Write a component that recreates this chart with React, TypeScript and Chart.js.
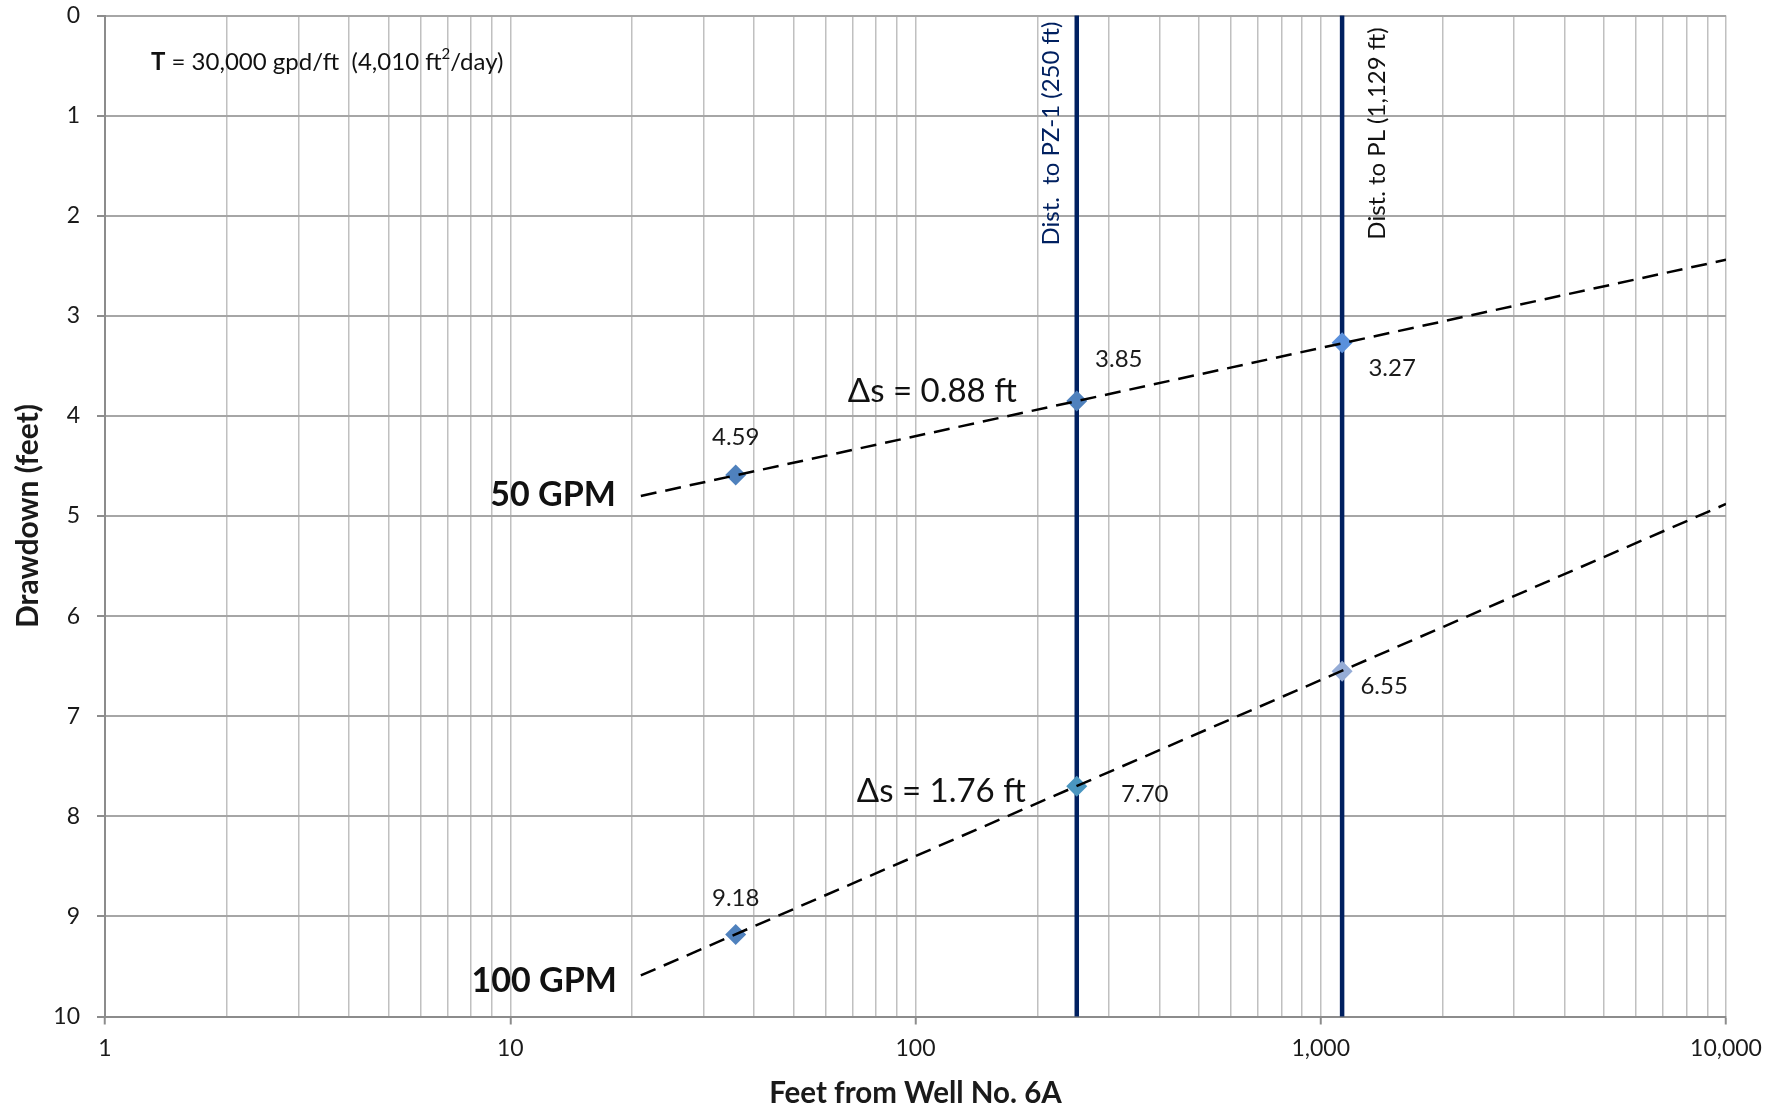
import React, { useEffect, useRef } from 'react';
import { Chart, registerables } from 'chart.js';

Chart.register(...registerables);

// ---------- data ----------
const distances = [36, 250, 1129];
const drawdown50 = [4.59, 3.85, 3.27];
const drawdown100 = [9.18, 7.7, 6.55];
const trendDistances = [21, 10000];
const trend50 = [4.80, 2.44];
const trend100 = [9.59, 4.88];
const pz1Distance = 250;
const plDistance = 1129;
const drawdownRange = [0, 10];
const xTickValues = [1, 10, 100, 1000, 10000];
const deltaS50 = 0.88;
const deltaS100 = 1.76;

// ---------- styles ----------
const FONT = 'Lato, "Open Sans", sans-serif';
const NAVY = '#002060';
const colors50 = ['#4F81BD', '#4F81BD', '#5A90DC'];
const colors100 = ['#4F81BD', '#4A96C0', '#95ACD6'];
const labelOffsets50 = [[0, -38], [42, -42], [50, 25]];
const labelOffsets100 = [[0, -36], [68, 8], [42, 15]];

const isPow10 = (v: number) => {
  const l = Math.log10(v);
  return Math.abs(l - Math.round(l)) < 1e-9;
};

const annotationPlugin = {
  id: 'annotationsCustom',
  afterDatasetsDraw(chart: any) {
    const ctx = chart.ctx as CanvasRenderingContext2D;
    const xs = chart.scales.x;
    const ys = chart.scales.y;
    ctx.save();
    ctx.textBaseline = 'middle';

    // data labels
    const drawLabels = (dsIndex: number, values: number[], offsets: number[][]) => {
      const meta = chart.getDatasetMeta(dsIndex);
      ctx.font = `24px ${FONT}`;
      ctx.fillStyle = '#1a1a1a';
      ctx.textAlign = 'center';
      values.forEach((v, i) => {
        const el = meta.data[i];
        ctx.fillText(v.toFixed(2), el.x + offsets[i][0], el.y + offsets[i][1]);
      });
    };
    drawLabels(2, drawdown50, labelOffsets50);
    drawLabels(3, drawdown100, labelOffsets100);

    // vertical line labels
    const drawVertical = (text: string, x: number, color: string) => {
      ctx.save();
      ctx.translate(x, chart.chartArea.top + 118);
      ctx.rotate(-Math.PI / 2);
      ctx.font = `24px ${FONT}`;
      ctx.fillStyle = color;
      ctx.textAlign = 'center';
      ctx.fillText(text, 0, 0);
      ctx.restore();
    };
    drawVertical('Dist.  to PZ-1 (250 ft)', xs.getPixelForValue(pz1Distance) - 25, NAVY);
    drawVertical('Dist. to PL (1,129 ft)', xs.getPixelForValue(plDistance) + 35, '#111');

    // delta s labels
    ctx.fillStyle = '#111';
    ctx.font = `33px ${FONT}`;
    ctx.textAlign = 'right';
    const pzX = xs.getPixelForValue(pz1Distance);
    ctx.fillText(`\u0394s = ${deltaS50.toFixed(2)} ft`, pzX - 60, ys.getPixelForValue(3.75));
    ctx.fillText(`\u0394s = ${deltaS100.toFixed(2)} ft`, pzX - 51, ys.getPixelForValue(7.75));

    // GPM labels
    ctx.font = `bold 34px ${FONT}`;
    const trendStart = xs.getPixelForValue(trendDistances[0]);
    ctx.fillText('50 GPM', trendStart - 25, ys.getPixelForValue(4.79));
    ctx.fillText('100 GPM', trendStart - 24, ys.getPixelForValue(9.65));

    // T label
    ctx.textAlign = 'left';
    let tx = chart.chartArea.left + 46;
    const ty = ys.getPixelForValue(0.47);
    ctx.font = `bold 24px ${FONT}`;
    ctx.fillText('T', tx, ty);
    tx += ctx.measureText('T').width;
    ctx.font = `24px ${FONT}`;
    const p1 = ' = 30,000 gpd/ft  (4,010 ft';
    ctx.fillText(p1, tx, ty);
    tx += ctx.measureText(p1).width;
    ctx.font = `15px ${FONT}`;
    ctx.fillText('2', tx, ty - 8);
    tx += ctx.measureText('2').width;
    ctx.font = `24px ${FONT}`;
    ctx.fillText('/day)', tx, ty);

    ctx.restore();
  },
};

export default function App() {
  const canvasRef = useRef<HTMLCanvasElement | null>(null);

  useEffect(() => {
    if (!canvasRef.current) return;
    const pts = (xsArr: number[], ysArr: number[]) => xsArr.map((x, i) => ({ x, y: ysArr[i] }));
    const chart = new Chart(canvasRef.current, {
      type: 'scatter',
      data: {
        datasets: [
          {
            label: '50 GPM trend',
            data: pts(trendDistances, trend50),
            showLine: true,
            borderColor: '#000',
            borderWidth: 2.5,
            borderDash: [16, 9],
            pointRadius: 0,
            order: 0,
          },
          {
            label: '100 GPM trend',
            data: pts(trendDistances, trend100),
            showLine: true,
            borderColor: '#000',
            borderWidth: 2.5,
            borderDash: [16, 9],
            pointRadius: 0,
            order: 0,
          },
          {
            label: '50 GPM',
            data: pts(distances, drawdown50),
            pointStyle: 'rectRot',
            pointRadius: 10.5,
            pointBorderWidth: 0,
            backgroundColor: colors50,
            pointBackgroundColor: colors50,
            showLine: false,
            order: 1,
          },
          {
            label: '100 GPM',
            data: pts(distances, drawdown100),
            pointStyle: 'rectRot',
            pointRadius: 10.5,
            pointBorderWidth: 0,
            backgroundColor: colors100,
            pointBackgroundColor: colors100,
            showLine: false,
            order: 1,
          },
          {
            label: 'PZ-1',
            data: drawdownRange.map((y) => ({ x: pz1Distance, y })),
            showLine: true,
            borderColor: NAVY,
            borderWidth: 4.5,
            pointRadius: 0,
            order: 2,
            clip: false as any,
          },
          {
            label: 'PL',
            data: drawdownRange.map((y) => ({ x: plDistance, y })),
            showLine: true,
            borderColor: NAVY,
            borderWidth: 4.5,
            pointRadius: 0,
            order: 2,
            clip: false as any,
          },
        ],
      },
      options: {
        animation: false,
        responsive: false,
        maintainAspectRatio: false,
        layout: { padding: { left: 0, top: 15.5, right: 60, bottom: 0 } },
        plugins: {
          legend: { display: false },
          tooltip: { enabled: false },
        },
        scales: {
          x: {
            type: 'logarithmic',
            min: xTickValues[0],
            max: xTickValues[xTickValues.length - 1],
            afterBuildTicks: (scale: any) => {
              const ticks: any[] = [];
              for (let d = 0; d < xTickValues.length - 1; d++) {
                for (let m = 1; m < 10; m++) ticks.push({ value: m * xTickValues[d] });
              }
              ticks.push({ value: xTickValues[xTickValues.length - 1] });
              scale.ticks = ticks;
            },
            afterFit: (scale: any) => {
              scale.height = 94.5;
              scale.paddingLeft = 0;
              scale.paddingRight = 0;
            },
            ticks: {
              autoSkip: false,
              maxRotation: 0,
              minRotation: 0,
              padding: 10,
              color: '#1a1a1a',
              font: { family: FONT, size: 23 },
              callback: (v: any) => (isPow10(Number(v)) ? Number(v).toLocaleString('en-US') : ''),
            },
            grid: {
              color: '#c0c0c0',
              lineWidth: 1.5,
              tickLength: 8,
              tickColor: (c: any) => (c.tick && isPow10(c.tick.value) ? '#8c8c8c' : 'rgba(0,0,0,0)'),
              tickWidth: 2,
            },
            border: { color: '#8c8c8c', width: 2 },
            title: {
              display: true,
              text: 'Feet from Well No. 6A',
              color: '#1a1a1a',
              font: { family: FONT, size: 29.5, weight: 'bold' },
              padding: { top: 0, bottom: 0 },
            },
          },
          y: {
            type: 'linear',
            reverse: true,
            min: drawdownRange[0],
            max: drawdownRange[1],
            afterFit: (scale: any) => {
              scale.width = 105;
              scale.paddingTop = 0;
              scale.paddingBottom = 0;
            },
            ticks: {
              stepSize: 1,
              padding: 17,
              color: '#1a1a1a',
              font: { family: FONT, size: 23 },
            },
            grid: {
              color: '#a6a6a6',
              lineWidth: 2,
              tickLength: 8,
              tickColor: '#8c8c8c',
            },
            border: { color: '#8c8c8c', width: 2 },
            title: {
              display: true,
              text: 'Drawdown (feet)',
              color: '#1a1a1a',
              font: { family: FONT, size: 30, weight: 'bold' },
              padding: { top: 10, bottom: 0 },
            },
          },
        },
      } as any,
      plugins: [annotationPlugin],
    });
    const fontsApi = (document as any).fonts;
    if (fontsApi && fontsApi.load) {
      Promise.all([fontsApi.load(`20px Lato`), fontsApi.load(`bold 20px Lato`)])
        .then(() => chart.update())
        .catch(() => {});
    }
    return () => chart.destroy();
  }, []);

  return (
    <div style={{ position: 'fixed', left: 0, top: 0, width: 1786, height: 1111, background: '#fff' }}>
      <canvas ref={canvasRef} width={1786} height={1111} style={{ width: 1786, height: 1111, display: 'block' }} />
    </div>
  );
}
